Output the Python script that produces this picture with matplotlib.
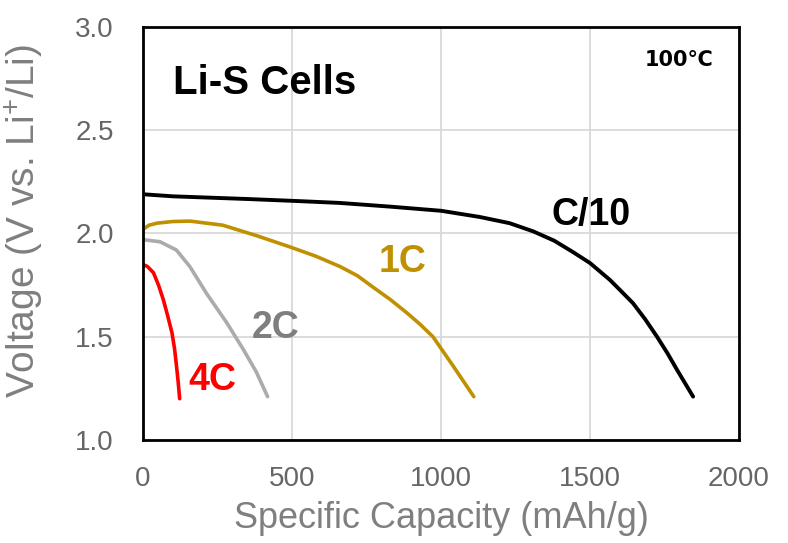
"""
Li-S cell discharge curves at different C-rates (100 C).
Saves out.png.
"""

import matplotlib

matplotlib.use("Agg")
import matplotlib.pyplot as plt

# ---- Data ----
cap_c10 = [0, 100, 350, 520, 660, 830, 1000, 1130, 1230, 1310, 1380, 1443,
           1500, 1567, 1605, 1644, 1685, 1725, 1760, 1792, 1846]
volt_c10 = [2.19, 2.18, 2.167, 2.157, 2.148, 2.13, 2.11, 2.08, 2.05, 2.01,
            1.965, 1.91, 1.857, 1.775, 1.72, 1.663, 1.585, 1.50, 1.42, 1.34,
            1.21]

cap_1c = [0, 20, 47, 100, 158, 268, 380, 493, 580, 661, 720, 772, 830, 886,
          930, 973, 1040, 1110]
volt_1c = [2.02, 2.04, 2.05, 2.058, 2.06, 2.04, 1.99, 1.935, 1.89, 1.84,
           1.795, 1.74, 1.68, 1.615, 1.56, 1.50, 1.36, 1.21]

cap_2c = [0, 0, 57, 112, 157, 213, 280, 336, 380, 418]
volt_2c = [2.22, 1.97, 1.96, 1.92, 1.84, 1.71, 1.57, 1.44, 1.33, 1.21]

cap_4c = [0, 15, 35, 52, 68, 83, 97, 106, 113, 118, 123]
volt_4c = [1.85, 1.84, 1.81, 1.75, 1.68, 1.60, 1.52, 1.44, 1.35, 1.28, 1.20]

x_ticks = [0, 500, 1000, 1500, 2000]
y_ticks = [1.0, 1.5, 2.0, 2.5, 3.0]

BLACK = "#000000"
GOLD = "#BF9000"
GRAY_LINE = "#ABABAB"
GRAY_TEXT = "#7F7F7F"
RED = "#FF0000"
TICK_COLOR = "#666666"

plt.rcParams["font.family"] = ["Liberation Sans", "DejaVu Sans"]
plt.rcParams["mathtext.fontset"] = "custom"
plt.rcParams["mathtext.rm"] = "Liberation Sans"
plt.rcParams["mathtext.it"] = "Liberation Sans:italic"
plt.rcParams["mathtext.bf"] = "Liberation Sans:bold"

fig = plt.figure(figsize=(7.88, 5.43), dpi=100)
ax = fig.add_axes([0.1815, 0.1897, 0.7563, 0.7606])

ax.plot(cap_c10, volt_c10, color=BLACK, lw=2.8, solid_capstyle="round",
        solid_joinstyle="round")
ax.plot(cap_1c, volt_1c, color=GOLD, lw=2.6, solid_capstyle="round",
        solid_joinstyle="round")
ax.plot(cap_2c, volt_2c, color=GRAY_LINE, lw=2.6, solid_capstyle="round",
        solid_joinstyle="round")
ax.plot(cap_4c, volt_4c, color=RED, lw=2.6, solid_capstyle="round",
        solid_joinstyle="round")

ax.set_xlim(0, 2000)
ax.set_ylim(1.0, 3.0)
ax.set_xticks(x_ticks)
ax.set_yticks(y_ticks)
ax.set_xticklabels([str(t) for t in x_ticks])
ax.set_yticklabels([f"{t:.1f}" for t in y_ticks])
ax.tick_params(length=0, labelsize=20, labelcolor=TICK_COLOR)
ax.tick_params(axis="y", pad=21)
ax.tick_params(axis="x", pad=19)

ax.grid(True, color="#D9D9D9", lw=1.3)
ax.set_axisbelow(True)
for spine in ax.spines.values():
    spine.set_color(BLACK)
    spine.set_linewidth(2.0)

ax.set_xlabel("Specific Capacity (mAh/g)", fontsize=26, color=GRAY_TEXT,
              labelpad=6)
ax.set_ylabel("Voltage (V vs. Li$^{+}$/Li)", fontsize=28, color=GRAY_TEXT)
ax.yaxis.set_label_coords(-0.163, 0.531)

# Annotations
ax.text(101, 2.73, "Li-S Cells", fontsize=29, fontweight="bold",
        color=BLACK, ha="left", va="center")
ax.text(1799, 2.84, "100\u2103", fontsize=15, fontweight="bold",
        color=BLACK, ha="center", va="center",
        family=["DejaVu Sans"])
ax.text(1503, 2.09, "C/10", fontsize=27, fontweight="bold",
        color=BLACK, ha="center", va="center")
ax.text(872, 1.86, "1C", fontsize=27, fontweight="bold",
        color=GOLD, ha="center", va="center")
ax.text(446, 1.54, "2C", fontsize=27, fontweight="bold",
        color=GRAY_TEXT, ha="center", va="center")
ax.text(232, 1.29, "4C", fontsize=27, fontweight="bold",
        color=RED, ha="center", va="center")

fig.savefig("out.png", dpi=100)
